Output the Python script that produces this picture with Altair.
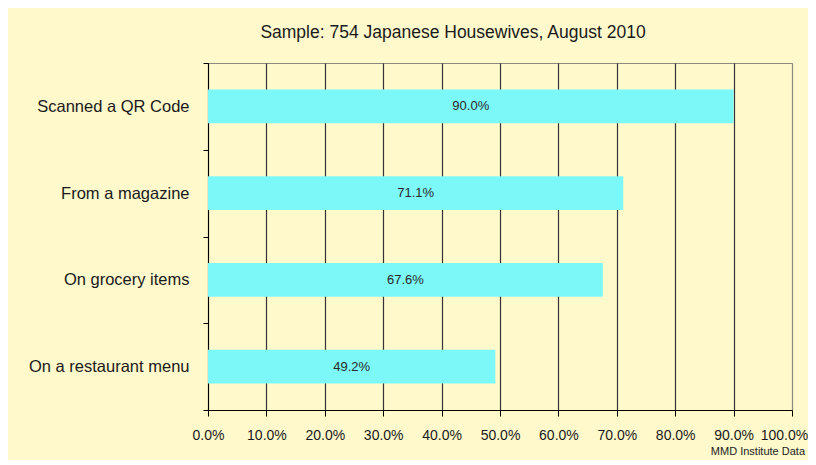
import altair as alt
import pandas as pd

categories = ["Scanned a QR Code", "From a magazine", "On grocery items", "On a restaurant menu"]
values = [0.900, 0.711, 0.676, 0.492]
x_ticks = [0.0, 0.1, 0.2, 0.3, 0.4, 0.5, 0.6, 0.7, 0.8, 0.9, 1.0]

df = pd.DataFrame({"category": categories, "value": values})
df["half"] = df["value"] / 2

FONT = "Liberation Sans"
BG = "#FFF9CC"

y_enc = alt.Y(
    "category:N",
    sort=categories,
    title=None,
    scale=alt.Scale(paddingInner=0, paddingOuter=0),
    axis=alt.Axis(
        tickBand="extent",
        domainColor="#000000",
        tickColor="#000000",
        tickSize=5,
        labelFont=FONT,
        labelFontSize=16.5,
        labelColor="#1a1a1a",
        labelPadding=14,
        labelLimit=300,
        grid=False,
    ),
)

x_scale = alt.Scale(domain=[0, 1])

bars = alt.Chart(df).mark_bar(color="#7CF8F8", height={"band": 0.39}).encode(
    x=alt.X(
        "value:Q",
        scale=x_scale,
        title=None,
        axis=alt.Axis(
            values=x_ticks,
            format=".1%",
            domainColor="#000000",
            tickColor="#000000",
            tickSize=6,
            labelFont=FONT,
            labelFontSize=14,
            labelColor="#1a1a1a",
            labelPadding=12,
            labelOverlap=False,
            labelBound=False,
            labelFlush=False,
            labelOffset=alt.condition(alt.datum.value == 1, alt.value(-8), alt.value(0)),
            grid=True,
            gridColor=alt.condition(alt.datum.value == 1, alt.value("#8a8a80"), alt.value("#333333")),
            gridOpacity=1,
            gridWidth=1.2,
        ),
    ),
    y=y_enc,
)

labels = alt.Chart(df).mark_text(font=FONT, fontSize=13, color="#2a2a2a").encode(
    x=alt.X("half:Q", scale=x_scale),
    y=alt.Y("category:N", sort=categories),
    text=alt.Text("value:Q", format=".1%"),
)

source = alt.Chart(pd.DataFrame({"t": ["MMD Institute Data"]})).mark_text(
    font=FONT, fontSize=11, color="#222222", align="right", baseline="middle"
).encode(
    x=alt.value(597),
    y=alt.value(389),
    text="t:N",
)

chart = (
    alt.layer(bars, labels, source)
    .properties(
        width=584,
        height=347,
        background=BG,
        padding={"left": 200, "top": 55, "right": 16, "bottom": 50},
        autosize=alt.AutoSizeParams(type="none"),
        title=alt.TitleParams(
            "Sample: 754 Japanese Housewives, August 2010",
            font=FONT,
            fontSize=17.5,
            fontWeight="normal",
            color="#1a1a1a",
            anchor="middle",
            dx=-47,
            offset=14,
        ),
    )
    .configure_view(stroke="#8a8a80", strokeWidth=1, fill=BG)
)

chart.save("out.html", embed_options={"renderer": "svg", "actions": False})
